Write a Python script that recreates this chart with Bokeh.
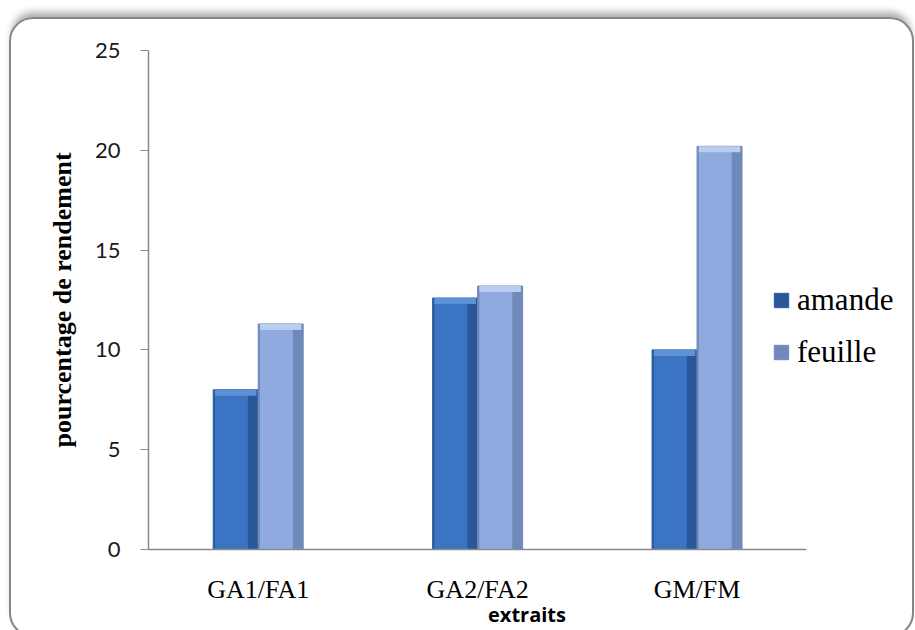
from bokeh.plotting import figure
from bokeh.models import (Range1d, Legend, LegendItem, FixedTicker,
                          ColumnDataSource, InlineStyleSheet)
from bokeh.embed import file_html
from bokeh.resources import INLINE

# Extraction yield (%) per extract pair
categories = ["GA1/FA1", "GA2/FA2", "GM/FM"]
amande = [8.0, 12.6, 10.0]
feuille = [11.3, 13.2, 20.2]
y_ticks = [0, 5, 10, 15, 20, 25]

BAR_W = 0.205      # bar width, in category units
FACE = 0.15        # width of the lit face of each bar
CAP = 0.3          # height of the light bevel at the top of each bar
N = len(categories)

# category slots are 1 unit wide, centred on i + 0.5
centers = [i + 0.5 for i in range(N)]
face_shift = (BAR_W - FACE) / 2 - 0.008   # lit face sits towards the left edge
src = ColumnDataSource(dict(
    x_a=[c - BAR_W / 2 for c in centers],
    x_f=[c + BAR_W / 2 for c in centers],
    xf_a=[c - BAR_W / 2 - face_shift for c in centers],
    xf_f=[c + BAR_W / 2 - face_shift for c in centers],
    amande=amande,
    feuille=feuille,
    amande_cap=[v - CAP for v in amande],
    feuille_cap=[v - CAP for v in feuille],
))

p = figure(width=915, height=630,
           x_range=Range1d(0, 3.45), y_range=Range1d(0, 25),
           output_backend="svg", toolbar_location=None,
           min_border_left=148, min_border_right=10,
           min_border_top=50, min_border_bottom=80)

p.background_fill_color = "white"
p.border_fill_color = "white"
p.outline_line_color = None
p.grid.visible = False

# rounded chart frame with a soft shadow above its top edge
frame_css = """
:host { position: relative; overflow: hidden; }
:host::after {
  content: "";
  position: absolute;
  left: 9px; top: 17px; width: 905px; height: 620px;
  box-sizing: border-box;
  border: 2px solid #858585;
  border-radius: 24px;
  box-shadow: 0 -8px 7px -3px rgba(0, 0, 0, 0.32);
  pointer-events: none;
}
"""
p.stylesheets = [InlineStyleSheet(css=frame_css)]

# amande bars: darker body, brighter face, light bevel on top
r_a = p.vbar(x="x_a", top="amande", width=BAR_W, source=src,
             fill_color="#29579a", line_color="#2a5a9c")
p.vbar(x="xf_a", top="amande", width=FACE, source=src,
       fill_color="#3a74c2", line_color=None)
p.vbar(x="x_a", top="amande", bottom="amande_cap", width=BAR_W - 0.016, source=src,
       fill_color="#5e91d6", line_color=None)

# feuille bars
r_f = p.vbar(x="x_f", top="feuille", width=BAR_W, source=src,
             fill_color="#7089bb", line_color="#7089bb")
p.vbar(x="xf_f", top="feuille", width=FACE, source=src,
       fill_color="#8eaade", line_color=None)
p.vbar(x="x_f", top="feuille", bottom="feuille_cap", width=BAR_W - 0.016, source=src,
       fill_color="#b9cdee", line_color=None)

# y axis
p.yaxis.ticker = FixedTicker(ticks=y_ticks)
p.yaxis.minor_tick_line_color = None
p.yaxis.major_tick_in = 0
p.yaxis.major_tick_out = 8
p.yaxis.major_tick_line_color = "#8a8a8a"
p.yaxis.axis_line_color = "#8a8a8a"
p.yaxis.axis_line_width = 1.5
p.yaxis.major_label_text_font = "Lato"
p.yaxis.major_label_text_font_size = "22px"
p.yaxis.major_label_text_color = "#1a1a1a"
p.yaxis.major_label_standoff = 20
p.yaxis.axis_label = "pourcentage de rendement"
p.yaxis.axis_label_text_font = "Liberation Serif"
p.yaxis.axis_label_text_font_style = "bold"
p.yaxis.axis_label_text_font_size = "26px"
p.yaxis.axis_label_text_color = "black"
p.yaxis.axis_label_standoff = 15

# x axis: one label per category slot, line limited to the category slots
p.xaxis.ticker = FixedTicker(ticks=centers)
p.xaxis.major_label_overrides = {c: name for c, name in zip(centers, categories)}
p.xaxis.bounds = (0, N)
p.xaxis.major_tick_line_color = None
p.xaxis.minor_tick_line_color = None
p.xaxis.axis_line_color = "#8a8a8a"
p.xaxis.axis_line_width = 1.5
p.xaxis.major_label_text_font = "Liberation Serif"
p.xaxis.major_label_text_font_size = "26px"
p.xaxis.major_label_text_color = "black"
p.xaxis.major_label_standoff = 19
p.xaxis.axis_label = "extraits"
p.xaxis.axis_label_text_font = "Open Sans"
p.xaxis.axis_label_text_font_style = "bold"
p.xaxis.axis_label_text_font_size = "20px"
p.xaxis.axis_label_text_color = "black"
p.xaxis.axis_label_standoff = -6

legend = Legend(items=[LegendItem(label="amande", renderers=[r_a]),
                       LegendItem(label="feuille", renderers=[r_f])],
                location=(624, 179))
legend.label_text_font = "Liberation Serif"
legend.label_text_font_size = "31px"
legend.label_text_color = "black"
legend.glyph_width = 18
legend.glyph_height = 18
legend.label_standoff = 7
legend.label_height = 36
legend.spacing = 16
legend.padding = 0
legend.margin = 0
legend.border_line_color = None
legend.background_fill_alpha = 0
p.add_layout(legend, "center")

open("out.html", "w").write(file_html(p, INLINE))
